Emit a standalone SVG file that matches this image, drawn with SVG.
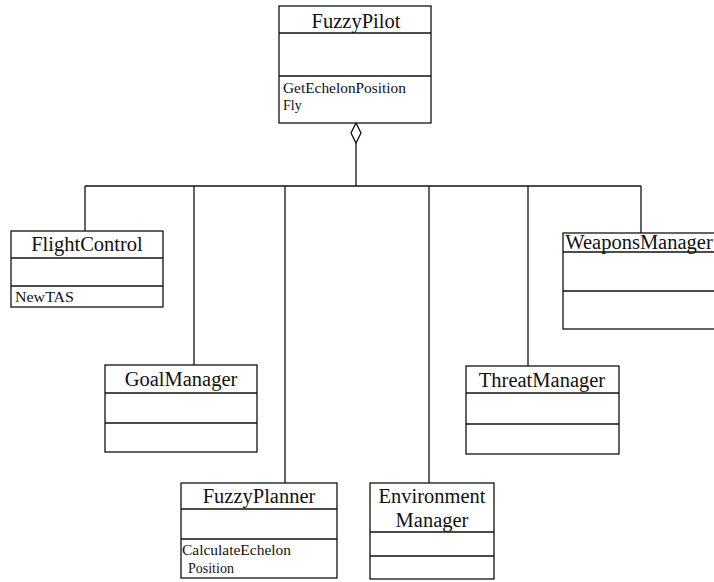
<svg xmlns="http://www.w3.org/2000/svg" width="714" height="582" viewBox="0 0 714 582">
  <style>
    .box { fill: #fff; stroke: #111; stroke-width: 1.3; }
    .div { stroke: #111; stroke-width: 1.3; }
    .wire { fill: none; stroke: #111; stroke-width: 1.3; }
    .name { font-family: "Liberation Serif", "Times New Roman", serif; font-size: 20.5px; fill: #111; text-anchor: middle; }
    .op { font-family: "Liberation Serif", "Times New Roman", serif; font-size: 14px; fill: #111; }
  </style>
  <rect width="714" height="582" fill="#fff"/>

  <!-- aggregation connectors -->
  <g id="connectors">
    <polygon points="356,123 361,133 356,143 351,133" fill="#fff" stroke="#111" stroke-width="1.3"/>
    <line class="wire" x1="356" y1="143" x2="356" y2="186"/>
    <line class="wire" x1="85" y1="186" x2="641" y2="186"/>
    <line class="wire" x1="85" y1="186" x2="85" y2="231"/>
    <line class="wire" x1="194" y1="186" x2="194" y2="365"/>
    <line class="wire" x1="285" y1="186" x2="285" y2="483"/>
    <line class="wire" x1="429" y1="186" x2="429" y2="483"/>
    <line class="wire" x1="528" y1="186" x2="528" y2="366"/>
    <line class="wire" x1="641" y1="186" x2="641" y2="233"/>
  </g>

  <g id="FuzzyPilot">
    <rect class="box" x="279" y="6" width="152" height="117"/>
    <line class="div" x1="279" y1="33" x2="431" y2="33"/>
    <line class="div" x1="279" y1="76" x2="431" y2="76"/>
    <text class="name" x="356" y="28">FuzzyPilot</text>
    <text class="op" x="283" y="93" textLength="123" lengthAdjust="spacingAndGlyphs">GetEchelonPosition</text>
    <text class="op" x="283" y="110">Fly</text>
  </g>

  <g id="FlightControl">
    <rect class="box" x="11" y="231" width="152" height="76"/>
    <line class="div" x1="11" y1="258" x2="163" y2="258"/>
    <line class="div" x1="11" y1="286" x2="163" y2="286"/>
    <text class="name" x="87" y="251">FlightControl</text>
    <text class="op" x="15" y="302" textLength="59" lengthAdjust="spacingAndGlyphs">NewTAS</text>
  </g>

  <g id="WeaponsManager">
    <rect class="box" x="563" y="233" width="160" height="96"/>
    <line class="div" x1="563" y1="252" x2="723" y2="252"/>
    <line class="div" x1="563" y1="291" x2="723" y2="291"/>
    <text class="name" x="639" y="249">WeaponsManager</text>
  </g>

  <g id="GoalManager">
    <rect class="box" x="105" y="365" width="152" height="87"/>
    <line class="div" x1="105" y1="393" x2="257" y2="393"/>
    <line class="div" x1="105" y1="423" x2="257" y2="423"/>
    <text class="name" x="181" y="386">GoalManager</text>
  </g>

  <g id="ThreatManager">
    <rect class="box" x="466" y="366" width="153" height="88"/>
    <line class="div" x1="466" y1="393" x2="619" y2="393"/>
    <line class="div" x1="466" y1="424" x2="619" y2="424"/>
    <text class="name" x="542" y="387">ThreatManager</text>
  </g>

  <g id="FuzzyPlanner">
    <rect class="box" x="181" y="483" width="156" height="95"/>
    <line class="div" x1="181" y1="509" x2="337" y2="509"/>
    <line class="div" x1="181" y1="539" x2="337" y2="539"/>
    <text class="name" x="259" y="503">FuzzyPlanner</text>
    <text class="op" x="182" y="555" textLength="109" lengthAdjust="spacingAndGlyphs">CalculateEchelon</text>
    <text class="op" x="188" y="573">Position</text>
  </g>

  <g id="EnvironmentManager">
    <rect class="box" x="370" y="483" width="124" height="96"/>
    <line class="div" x1="370" y1="532" x2="494" y2="532" stroke-width="2"/>
    <line class="div" x1="370" y1="556" x2="494" y2="556"/>
    <text class="name" x="432" y="503">Environment</text>
    <text class="name" x="432" y="527">Manager</text>
  </g>
</svg>
